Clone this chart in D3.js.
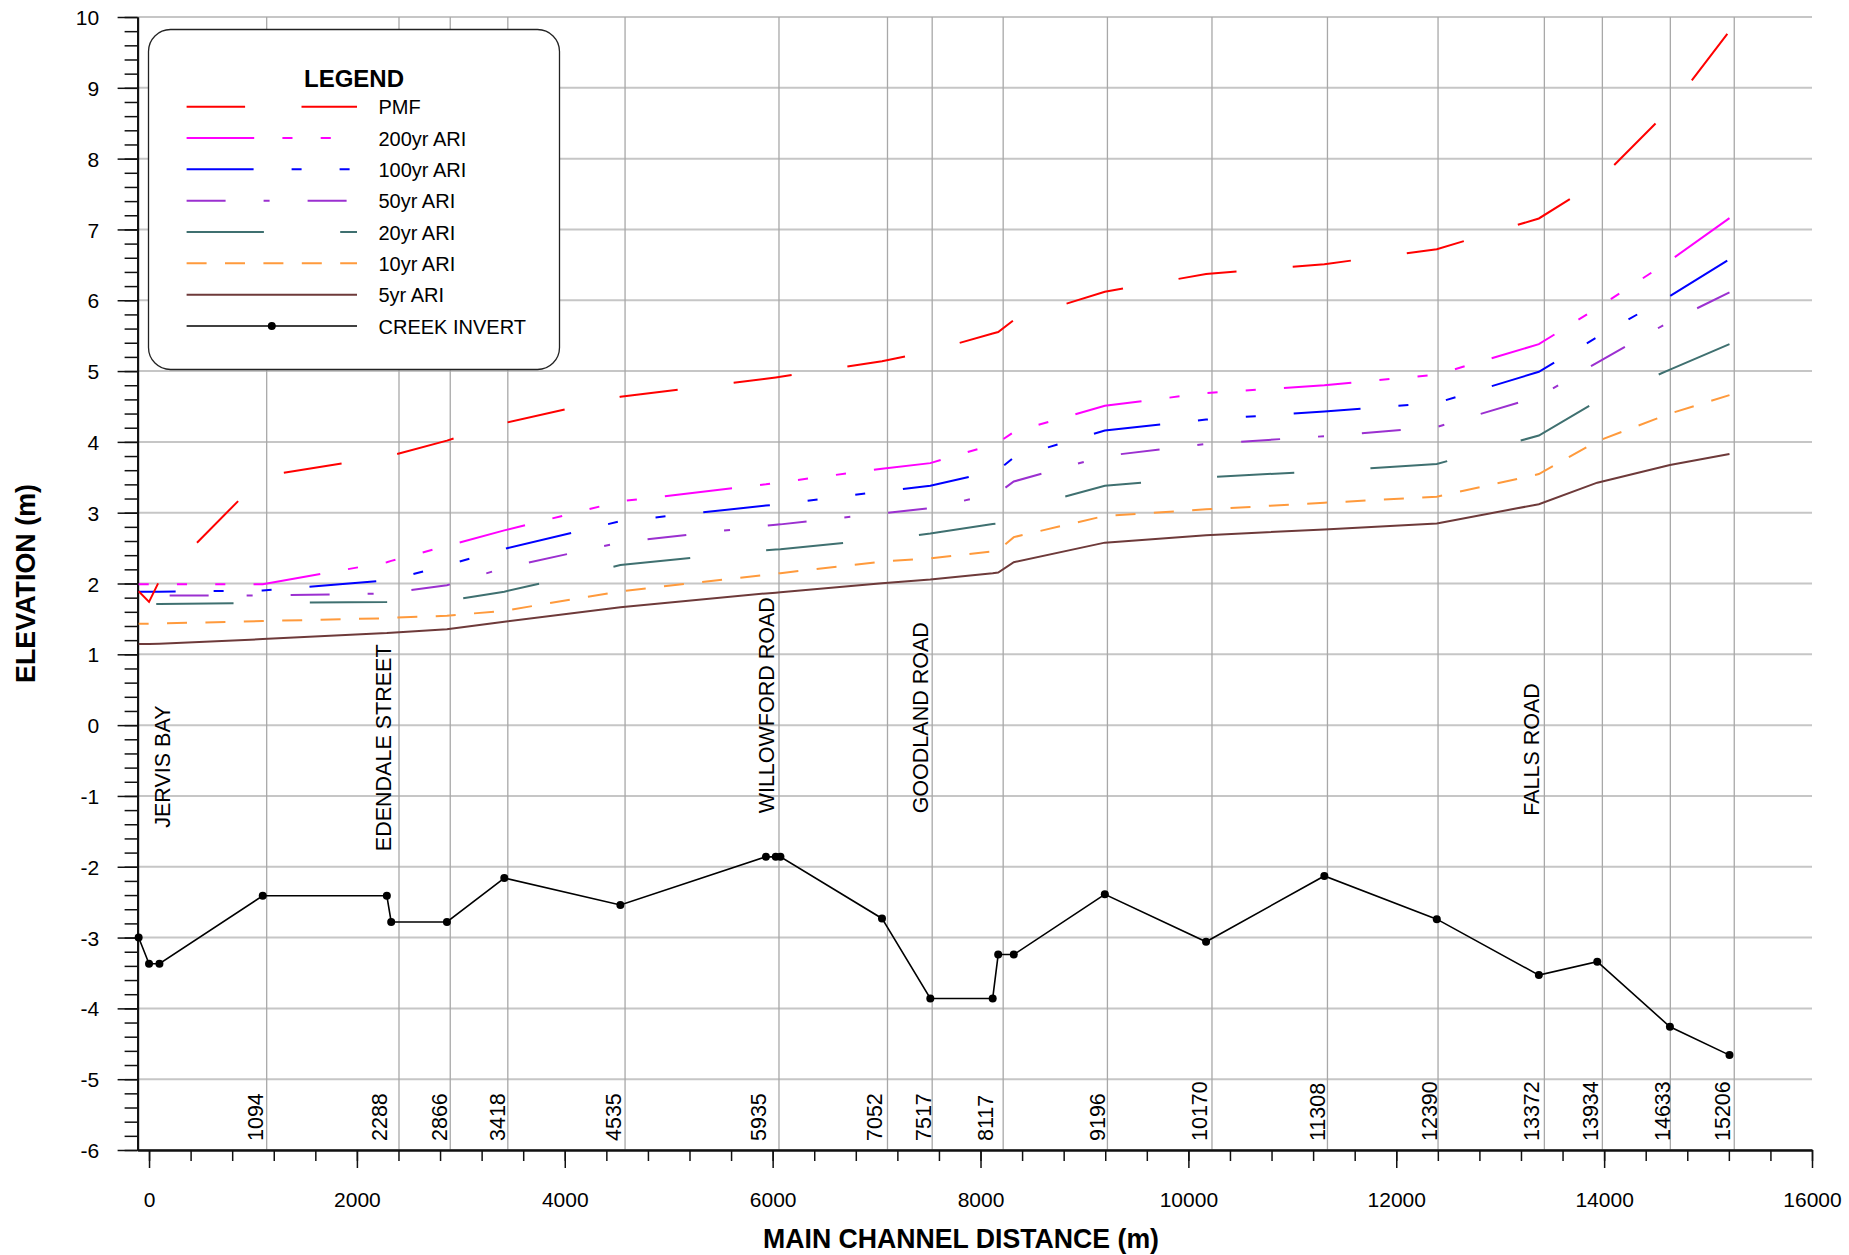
<!DOCTYPE html>
<html>
<head>
<meta charset="utf-8">
<script src="https://cdn.jsdelivr.net/npm/d3@7"></script>
<style>
  body { margin: 0; background: #fff; }
  svg { display: block; font-family: "Liberation Sans", Arial, sans-serif; }
</style>
</head>
<body>
<div id="chart"></div>
<script>
// chainage (m) of every point on the long section
const chainage = [-100, 0, 100, 1094, 2288, 2330, 2866, 3418, 4535, 5935, 6030, 6075, 7052, 7517,
  8117, 8170, 8320, 9196, 10170, 11308, 12390, 13372, 13934, 14633, 15206];

// water levels (m) at those chainages
const pmf    = [1.89, 1.74, 2.04, 3.515, 3.80, 3.805, 4.018, 4.265, 4.637, 4.891, 4.91, 4.92, 5.14, 5.28,
  5.53, 5.552, 5.72, 6.12, 6.37, 6.51, 6.72, 7.155, 7.67, 8.70, 9.80];
const ari200 = [1.99, 1.99, 1.99, 1.99, 2.30, 2.32, 2.53, 2.75, 3.16, 3.40, 3.42, 3.43, 3.62, 3.70,
  3.96, 3.99, 4.14, 4.51, 4.69, 4.80, 4.95, 5.38, 5.89, 6.56, 7.16];
const ari100 = [1.885, 1.885, 1.885, 1.90, 2.045, 2.05, 2.26, 2.49, 2.88, 3.10, 3.115, 3.12, 3.30, 3.38,
  3.58, 3.60, 3.78, 4.16, 4.315, 4.43, 4.55, 4.99, 5.48, 6.06, 6.58];
const ari50  = [1.83, 1.83, 1.83, 1.83, 1.86, 1.87, 1.975, 2.22, 2.58, 2.815, 2.83, 2.835, 2.99, 3.065,
  3.26, 3.28, 3.44, 3.80, 3.97, 4.08, 4.21, 4.64, 5.12, 5.70, 6.11];
const ari20  = [1.71, 1.71, 1.71, 1.725, 1.738, 1.74, 1.754, 1.885, 2.26, 2.47, 2.48, 2.485, 2.626, 2.705,
  2.84, 2.85, 3.03, 3.38, 3.50, 3.587, 3.687, 4.09, 4.575, 5.02, 5.38];
const ari10  = [1.433, 1.433, 1.435, 1.47, 1.51, 1.515, 1.545, 1.615, 1.89, 2.123, 2.14, 2.146, 2.31, 2.354,
  2.455, 2.47, 2.655, 2.955, 3.047, 3.14, 3.225, 3.545, 4.01, 4.40, 4.66];
const ari5   = [1.145, 1.145, 1.15, 1.215, 1.30, 1.305, 1.355, 1.46, 1.665, 1.86, 1.87, 1.875, 2.005, 2.056,
  2.145, 2.155, 2.30, 2.577, 2.683, 2.763, 2.849, 3.12, 3.424, 3.672, 3.829];
const creekInvert = [-3.00, -3.37, -3.37, -2.41, -2.41, -2.78, -2.78, -2.16, -2.54, -1.86, -1.86, -1.86, -2.73, -3.86,
  -3.86, -3.24, -3.24, -2.39, -3.06, -2.13, -2.74, -3.53, -3.34, -4.26, -4.66];

// cross section labels and the vertical grid lines drawn for them
const sectionLabels = [1094, 2288, 2866, 3418, 4535, 5935, 7052, 7517, 8117, 9196, 10170, 11308, 12390, 13372, 13934, 14633, 15206];
const gridChainage = [1132, 2405, 2898, 3452, 4580, 6061, 7105, 7535, 8218, 9221, 10227, 11338, 12402, 13425, 13983, 14637, 15252];

// road / location names
const roadNames = ["JERVIS BAY", "EDENDALE STREET", "WILLOWFORD ROAD", "GOODLAND ROAD", "FALLS ROAD"];
const roadChainage = [200, 2330, 6013, 7495, 13372];
const roadLabelElev = [-1.45, -1.78, -1.246, -1.246, -1.28];

const yTicks = d3.range(-6, 11);
const xTicks = d3.range(0, 16001, 2000);

const width = 1849, height = 1255;

const svg = d3.select("#chart")
    .append("svg")
    .attr("width", width)
    .attr("height", height);

const x = d3.scaleLinear().domain([-110, 16000]).range([137.6, 1812]);
const y = d3.scaleLinear().domain([-6, 10]).range([1150, 17]);

// grid lines
svg.append("g")
    .selectAll("line")
    .data(yTicks)
    .join("line")
    .attr("x1", x(-110)).attr("x2", x(16000))
    .attr("y1", d => y(d)).attr("y2", d => y(d))
    .attr("stroke", "#c6c6c6")
    .attr("stroke-width", 2);

svg.append("g")
    .selectAll("line")
    .data(gridChainage)
    .join("line")
    .attr("x1", d => x(d)).attr("x2", d => x(d))
    .attr("y1", y(10)).attr("y2", y(-6))
    .attr("stroke", "#a8a8a8")
    .attr("stroke-width", 1.3);

// axes: minor ticks first, then major ticks with labels
const xMinor = d3.axisBottom(x).tickValues(d3.range(0, 16001, 400)).tickSize(11).tickSizeOuter(0).tickFormat("");
const xMajor = d3.axisBottom(x).tickValues(xTicks).tickSize(18).tickSizeOuter(0).tickPadding(24)
    .tickFormat(d => String(d));
const yMinor = d3.axisLeft(y).tickValues(d3.range(-30, 51).map(v => v / 5)).tickSize(13).tickSizeOuter(0).tickFormat("");
const yMajor = d3.axisLeft(y).tickValues(yTicks).tickSize(20).tickSizeOuter(0).tickPadding(18.5)
    .tickFormat(d => String(d));

function styleAxis(g) {
    g.attr("font-family", null).attr("font-size", null);
    g.selectAll(".tick line").attr("stroke", "#111").attr("stroke-width", 1.5);
    g.select(".domain").attr("stroke", "#111").attr("stroke-width", 2);
    g.selectAll("text").attr("fill", "#000").style("font-size", "21px");
}

svg.append("g").attr("transform", `translate(0,${y(-6)})`).call(xMinor).call(styleAxis);
svg.append("g").attr("transform", `translate(0,${y(-6)})`).call(xMajor).call(styleAxis);
svg.append("g").attr("transform", `translate(${x(-110)},0)`).call(yMinor).call(styleAxis);
svg.append("g").attr("transform", `translate(${x(-110)},0)`).call(yMajor).call(styleAxis)
    .selectAll("text").attr("dy", "0.36em");

// series styles
const series = [
    { name: "PMF",       values: pmf,    color: "#ff0000", dash: "58.5 56.4", offset: 23 },
    { name: "200yr ARI", values: ari200, color: "#ff00ff", dash: "67.6 28.2 10.1 28.2 10.1 28.2 10.1 28.2", offset: 95.8 },
    { name: "100yr ARI", values: ari100, color: "#0000ff", dash: "67 38 10 38 10 38", offset: 30 },
    { name: "50yr ARI",  values: ari50,  color: "#9b30d0", dash: "39 38 6 38", offset: 90 },
    { name: "20yr ARI",  values: ari20,  color: "#3f7070", dash: "77.3 76.3", offset: 136 },
    { name: "10yr ARI",  values: ari10,  color: "#ff9a3c", dash: "20 18.4", offset: 10 },
    { name: "5yr ARI",   values: ari5,   color: "#6e3a3a", dash: null, offset: 0 }
];

const line = d3.line()
    .x(d => x(d[0]))
    .y(d => y(d[1]));

series.slice().reverse().forEach(function(s) {
    svg.append("path")
        .datum(d3.zip(chainage, s.values))
        .attr("d", line)
        .attr("fill", "none")
        .attr("stroke", s.color)
        .attr("stroke-width", 2)
        .attr("stroke-dasharray", s.dash)
        .attr("stroke-dashoffset", s.offset);
});

// creek invert
const creek = d3.zip(chainage, creekInvert);
svg.append("path")
    .datum(creek)
    .attr("d", line)
    .attr("fill", "none")
    .attr("stroke", "#000")
    .attr("stroke-width", 1.6);

svg.append("g")
    .selectAll("circle")
    .data(creek)
    .join("circle")
    .attr("cx", d => x(d[0]))
    .attr("cy", d => y(d[1]))
    .attr("r", 4)
    .attr("fill", "#000");

// cross section chainage labels
svg.append("g")
    .selectAll("text")
    .data(sectionLabels)
    .join("text")
    .attr("transform", d => `translate(${x(d) + 0.5},1141) rotate(-90)`)
    .style("font-size", "21.5px")
    .text(d => d);

// road names
svg.append("g")
    .selectAll("text")
    .data(roadNames)
    .join("text")
    .attr("transform", (d, i) => `translate(${x(roadChainage[i])},${y(roadLabelElev[i])}) rotate(-90)`)
    .style("font-size", "21.5px")
    .text(d => d);

// axis titles
svg.append("text")
    .attr("transform", `translate(35,${(y(10) + y(-6)) / 2}) rotate(-90)`)
    .attr("text-anchor", "middle")
    .attr("font-weight", "bold")
    .attr("textLength", 199)
    .attr("lengthAdjust", "spacingAndGlyphs")
    .style("font-size", "28px")
    .text("ELEVATION (m)");

svg.append("text")
    .attr("x", 961)
    .attr("y", 1248)
    .attr("text-anchor", "middle")
    .attr("font-weight", "bold")
    .attr("textLength", 396)
    .attr("lengthAdjust", "spacingAndGlyphs")
    .style("font-size", "28px")
    .text("MAIN CHANNEL DISTANCE (m)");

// legend
const legend = svg.append("g");

legend.append("rect")
    .attr("x", 148.5).attr("y", 29.5)
    .attr("width", 411).attr("height", 340)
    .attr("rx", 22).attr("ry", 22)
    .attr("fill", "#fff")
    .attr("stroke", "#222")
    .attr("stroke-width", 1.3);

legend.append("text")
    .attr("x", 354).attr("y", 87)
    .attr("text-anchor", "middle")
    .attr("font-weight", "bold")
    .style("font-size", "24px")
    .text("LEGEND");

const rowY = i => 106.7 + i * 31.33;

series.forEach(function(s, i) {
    legend.append("line")
        .attr("x1", 186.6).attr("x2", 357)
        .attr("y1", rowY(i)).attr("y2", rowY(i))
        .attr("stroke", s.color)
        .attr("stroke-width", 2)
        .attr("stroke-dasharray", s.dash);
    legend.append("text")
        .attr("x", 378.5).attr("y", rowY(i) + 7.5)
        .style("font-size", "20px")
        .text(s.name);
});

const ci = series.length;
legend.append("line")
    .attr("x1", 186.6).attr("x2", 357)
    .attr("y1", rowY(ci)).attr("y2", rowY(ci))
    .attr("stroke", "#000")
    .attr("stroke-width", 1.6);
legend.append("circle")
    .attr("cx", 271.8).attr("cy", rowY(ci))
    .attr("r", 4)
    .attr("fill", "#000");
legend.append("text")
    .attr("x", 378.5).attr("y", rowY(ci) + 7.5)
    .style("font-size", "20px")
    .text("CREEK INVERT");
</script>
</body>
</html>
